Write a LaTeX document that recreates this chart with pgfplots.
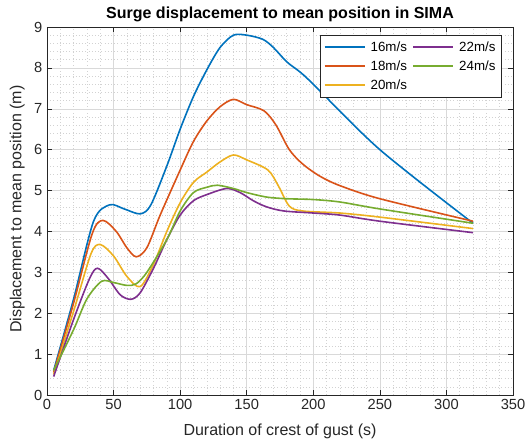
\documentclass[border=0pt]{standalone}
\usepackage{fontspec}
\setmainfont{Liberation Sans}
\usepackage{pgfplots}
\pgfplotsset{compat=1.18}

\definecolor{mblue}{rgb}{0,0.447,0.741}
\definecolor{morange}{rgb}{0.85,0.325,0.098}
\definecolor{myellow}{rgb}{0.929,0.694,0.125}
\definecolor{mpurple}{rgb}{0.494,0.184,0.556}
\definecolor{mgreen}{rgb}{0.466,0.674,0.188}
\definecolor{axgray}{rgb}{0.15,0.15,0.15}

\begin{document}
\begin{tikzpicture}
\begin{axis}[
  scale only axis,
  width=349.5pt, height=276pt,
  xmin=0, xmax=350, ymin=0, ymax=9,
  xtick={0,50,...,350}, ytick={0,1,...,9},
  minor x tick num=4, minor y tick num=4,
  xmajorgrids, ymajorgrids, xminorgrids, yminorgrids,
  major grid style={gray!30, line width=0.4pt},
  minor grid style={gray!35, line width=0.4pt, dash pattern=on 0.6pt off 1.8pt},
  tick align=inside,
  major tick length=4pt, minor tick length=0pt,
  axis line style={axgray, line width=0.5pt},
  every tick/.style={axgray},
  tick label style={font=\fontsize{11}{12}\selectfont, text=axgray},
  /pgf/number format/assume math mode=true,
  label style={font=\fontsize{12}{13}\selectfont, text=axgray},
  xlabel={Duration of crest of gust (s)},
  ylabel={Displacement to mean position (m)},
  xlabel style={at={(rel axis cs:0.5,-0.1)}, anchor=center},
  ylabel style={at={(rel axis cs:-0.064,0.505)}, anchor=center},
  title={\bfseries Surge displacement to mean position in SIMA},
  title style={font=\fontsize{12}{14}\selectfont, yshift=-6pt},
  legend style={at={(0.976,0.978)}, anchor=north east, draw=axgray,
    font=\fontsize{10}{12}\selectfont, row sep=1.5pt, column sep=2pt,
    inner sep=2.5pt},
  legend columns=2,
  legend cell align=left,
  legend image code/.code={\draw[#1, line width=1.2pt] (0pt,0pt) -- (30pt,0pt);},
  every axis plot/.append style={line width=1.2pt, smooth, tension=0.5},
]
\coordinate (sw) at (rel axis cs:0,0);
\coordinate (ne) at (rel axis cs:1,1);

% 16 m/s
\addplot[mblue, forget plot] coordinates {
 (5,0.6) (20,2.35) (35,4.25) (47,4.65) (58,4.55) (70,4.43) (78,4.65)
 (90,5.6) (100,6.5) (110,7.3) (120,7.95) (130,8.5) (140,8.8) (150,8.8)
 (162,8.7) (170,8.5) (180,8.15) (190,7.9) (200,7.6) (250,6.0) (320,4.2)};
% 18 m/s
\addplot[morange, forget plot] coordinates {
 (5,0.55) (20,2.25) (34,3.95) (42,4.27) (52,4.0) (60,3.6) (67,3.38) (75,3.6)
 (85,4.4) (100,5.5) (110,6.2) (120,6.7) (130,7.05) (140,7.23) (150,7.1)
 (163,6.95) (172,6.6) (182,6.0) (192,5.65) (205,5.35) (220,5.12) (250,4.8) (320,4.25)};
% 20 m/s
\addplot[myellow, forget plot] coordinates {
 (5,0.5) (20,2.05) (33,3.45) (40,3.68) (50,3.4) (60,2.9) (70,2.65) (80,3.2)
 (90,4.0) (100,4.7) (110,5.2) (120,5.45) (130,5.7) (140,5.87) (150,5.75)
 (166,5.5) (174,5.1) (182,4.62) (192,4.5) (220,4.45) (250,4.35) (320,4.07)};
% 22 m/s
\addplot[mpurple, forget plot] coordinates {
 (5,0.45) (20,1.85) (32,2.85) (38,3.1) (46,2.85) (55,2.45) (63,2.34) (70,2.5)
 (80,3.1) (90,3.8) (100,4.4) (110,4.75) (120,4.9) (135,5.05) (145,4.95)
 (155,4.75) (165,4.6) (178,4.5) (200,4.45) (220,4.4) (250,4.25) (320,3.97)};
% 24 m/s
\addplot[mgreen, forget plot] coordinates {
 (5,0.6) (20,1.6) (30,2.35) (41,2.78) (50,2.75) (60,2.68) (67,2.72) (75,3.0)
 (90,3.8) (100,4.5) (110,4.95) (120,5.08) (128,5.13) (140,5.05) (150,4.95)
 (165,4.84) (180,4.8) (200,4.78) (220,4.72) (250,4.55) (320,4.2)};

\addlegendimage{mblue}\addlegendentry{16m/s}
\addlegendimage{mpurple}\addlegendentry{22m/s}
\addlegendimage{morange}\addlegendentry{18m/s}
\addlegendimage{mgreen}\addlegendentry{24m/s}
\addlegendimage{myellow}\addlegendentry{20m/s}
\end{axis}
\pgfresetboundingbox
\path ([shift={(-35.25pt,-37.5pt)}]sw) rectangle ([shift={(11.25pt,20.25pt)}]ne);
\end{tikzpicture}
\end{document}
